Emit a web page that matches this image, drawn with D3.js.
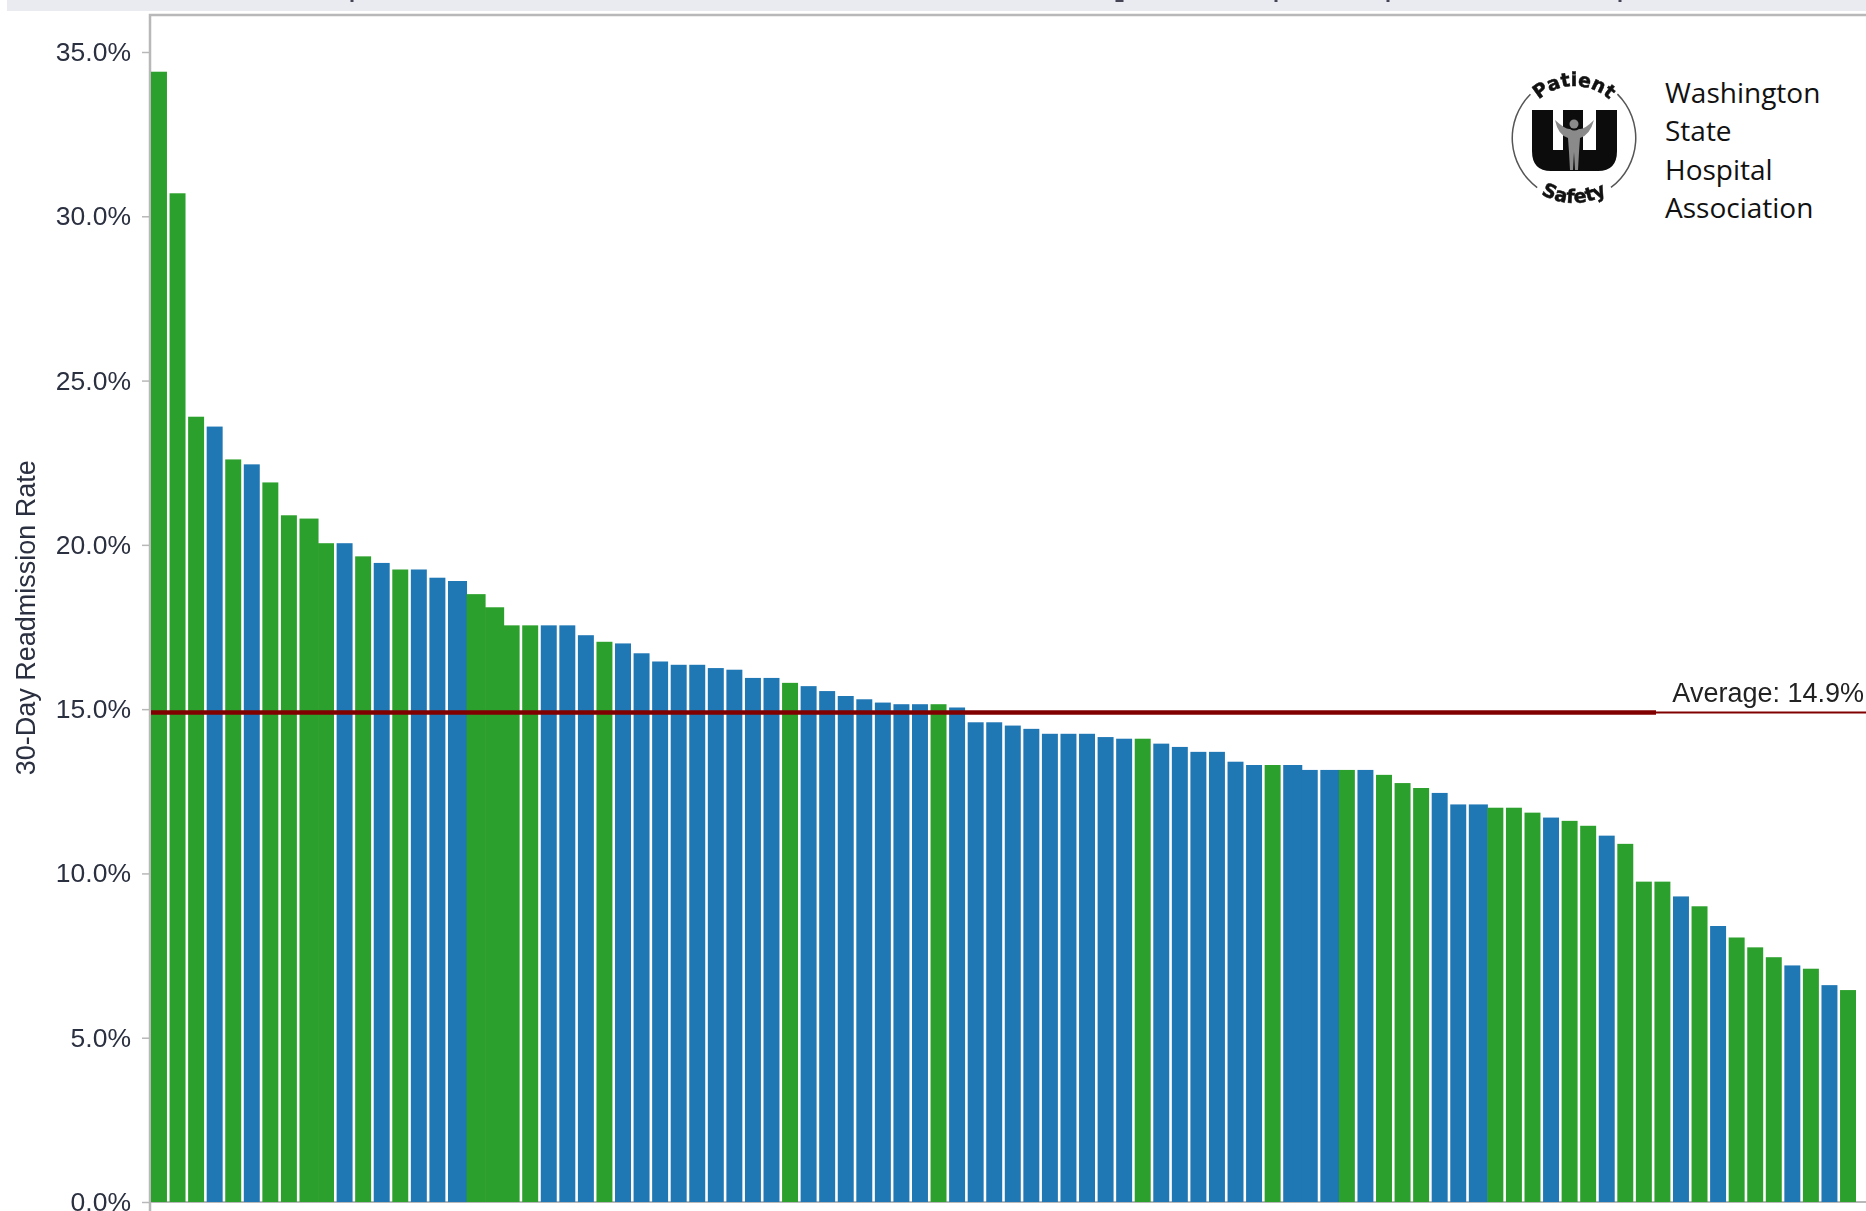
<!DOCTYPE html>
<html>
<head>
<meta charset="utf-8">
<script src="https://d3js.org/d3.v7.min.js"></script>
<style>
  html, body { margin: 0; padding: 0; background: #fff; overflow: hidden; }
  text { font-family: "Liberation Sans", Arial, sans-serif; }
</style>
</head>
<body>
<div id="chart"></div>
<script>
// values, left to right
const rates = [
  34.4, 30.7, 23.9, 23.6, 22.6, 22.45, 21.9, 20.9, 20.8, 20.05,
  20.05, 19.65, 19.45, 19.25, 19.25, 19.0, 18.9, 18.5, 18.1, 17.55,
  17.55, 17.55, 17.55, 17.25, 17.05, 17.0, 16.7, 16.45, 16.35, 16.35,
  16.25, 16.2, 15.95, 15.95, 15.8, 15.7, 15.55, 15.4, 15.3, 15.2,
  15.15, 15.15, 15.15, 15.05, 14.6, 14.6, 14.5, 14.4, 14.25, 14.25,
  14.25, 14.15, 14.1, 14.1, 13.95, 13.85, 13.7, 13.7, 13.4, 13.3,
  13.3, 13.3, 13.15, 13.15, 13.15, 13.15, 13.0, 12.75, 12.6, 12.45,
  12.1, 12.1, 12.0, 12.0, 11.85, 11.7, 11.6, 11.45, 11.15, 10.9,
  9.75, 9.75, 9.3, 9.0, 8.4, 8.05, 7.75, 7.45, 7.2, 7.1,
  6.6, 6.45
];
// G = green, B = blue
const groups = ("GGGBGBGGGG" + "BGBGBBBGGG" + "GBBBGBBBBB" + "BBBBGBBBBB" +
  "BBGBBBBBBB" + "BBBGBBBBBB" + "GBBBGBGGGB" + "BBGGGBGGBG" + "GGBGBGGGBG" + "BG").split("");
const yTicks = [0, 5, 10, 15, 20, 25, 30, 35];
const average = 14.9;
const yTitle = "30-Day Readmission Rate";
const averageLabel = "Average: 14.9%";
const orgLines = ["Washington", "State", "Hospital", "Association"];
const groupColor = { G: "#2ca02c", B: "#1f77b4" };
// bar positions whose gap to the next bar is closed in the picture
const closedGaps = [8, 16, 17, 18, 61, 63, 71];

const W = 1866, H = 1211;
const margin = { top: 14, right: 10, bottom: 10, left: 151 };

const svg = d3.select("#chart").append("svg")
  .attr("width", W).attr("height", H).style("display", "block");

const x = d3.scaleBand().domain(d3.range(rates.length))
  .range([margin.left, W - margin.right]).paddingInner(0.14).paddingOuter(0);
const y = d3.scaleLinear().domain([0, 35]).range([1202, 52]);

// the source is a soft screenshot, so the chart part gets a light blur
const plot = svg.append("g").style("filter", "blur(0.6px)");

// grey band left over from the cropped header, with the title's descenders poking in
plot.append("rect").attr("x", 7).attr("y", 0).attr("width", W - 7).attr("height", 11).attr("fill", "#e9ebf0");
plot.selectAll(".descender")
  .data([352, 1117, 1276, 1388, 1620])
  .join("rect")
  .attr("class", "descender")
  .attr("x", d => d - 1.5).attr("y", 0)
  .attr("width", (d, i) => i === 1 ? 8 : 3).attr("height", 2)
  .attr("fill", "#445");

// frame and baseline
plot.append("path")
  .attr("d", `M${W},15H150V${H}`)
  .attr("fill", "none").attr("stroke", "#b8b8b8").attr("stroke-width", 2.5);
plot.append("line")
  .attr("x1", 150).attr("x2", W).attr("y1", y(0)).attr("y2", y(0))
  .attr("stroke", "#b8b8b8").attr("stroke-width", 2);

// bars
plot.selectAll(".bar")
  .data(rates)
  .join("rect")
  .attr("class", "bar")
  .attr("x", (d, i) => x(i))
  .attr("y", d => y(d))
  .attr("width", (d, i) => closedGaps.includes(i) ? x.step() + 0.5 : x.bandwidth())
  .attr("height", d => y(0) - y(d))
  .attr("fill", (d, i) => groupColor[groups[i]]);

// y axis
const axis = plot.append("g")
  .attr("transform", "translate(150,0)")
  .call(d3.axisLeft(y).tickValues(yTicks).tickSize(8).tickPadding(11).tickFormat(d => d.toFixed(1) + "%"));
axis.select(".domain").remove();
axis.selectAll("line").attr("stroke", "#b8b8b8").attr("stroke-width", 1.5);
axis.selectAll("text").attr("fill", "#2b3040").style("font-size", "26.5px")
  .style("font-family", '"Liberation Sans", Arial, sans-serif');

plot.append("text")
  .attr("transform", `translate(35,${y(17.78)}) rotate(-90)`)
  .attr("text-anchor", "middle")
  .attr("fill", "#2b3040")
  .style("font-size", "27px")
  .text(yTitle);

// average line, thick across the plot and thin under its label
const lineEnd = 1656;
plot.append("line")
  .attr("x1", 151).attr("x2", lineEnd).attr("y1", y(average)).attr("y2", y(average))
  .attr("stroke", "#800000").attr("stroke-width", 4.5);
plot.append("line")
  .attr("x1", lineEnd).attr("x2", W).attr("y1", y(average)).attr("y2", y(average))
  .attr("stroke", "#800000").attr("stroke-width", 2);
plot.append("text")
  .attr("x", 1864).attr("y", 702)
  .attr("text-anchor", "end")
  .attr("fill", "#222")
  .style("font-size", "27px")
  .text(averageLabel);

// organisation text
svg.append("g").selectAll("text")
  .data(orgLines)
  .join("text")
  .attr("x", 1665)
  .attr("y", (d, i) => 103 + i * 38.4)
  .attr("fill", "#111")
  .style("font-family", '"Open Sans", sans-serif')
  .style("font-size", "28px")
  .text(d => d);

// logo
const logo = svg.append("g")
  .attr("transform", "translate(1574,138)")
  .style("filter", "blur(0.4px)");

const ring = d3.arc().innerRadius(61).outerRadius(62.5);
logo.selectAll(".ring")
  .data([[0.78, 2.5], [3.78, 5.5]])
  .join("path")
  .attr("class", "ring")
  .attr("d", d => ring({ startAngle: d[0], endAngle: d[1] }))
  .attr("fill", "#555");

// block letter with two slots
logo.append("path")
  .attr("d", "M-42,-28H-21V12H-11V-28H9V12H22V-28H43V13Q43,33 24,33H-23Q-42,33 -42,13Z")
  .attr("fill", "#0c0c0c");

// figure standing in the letter
logo.append("path")
  .attr("d", "M-19,-18Q-8,-8 -4,-9Q0,-6 5,-9Q10,-8 20,-18Q16,-3 6,0L5,14L4,32H1L0,14L-1,32H-4L-5,14L-6,0Q-16,-3 -19,-18Z")
  .attr("fill", "#8a8a8a");
logo.append("circle").attr("cx", 0).attr("cy", -14).attr("r", 4.5).attr("fill", "#8a8a8a");

const defs = svg.append("defs");
defs.append("path").attr("id", "logoTop").attr("d", "M-52,0A52,52 0 0 1 52,0");
defs.append("path").attr("id", "logoBottom").attr("d", "M-65,0A65,65 0 0 0 65,0");

logo.append("text")
  .attr("text-anchor", "middle")
  .style("font-family", '"DejaVu Sans", sans-serif')
  .style("font-weight", "bold")
  .style("font-size", "19px")
  .attr("fill", "#111").attr("stroke", "#111").attr("stroke-width", 0.5)
  .append("textPath")
  .attr("href", "#logoTop")
  .attr("startOffset", "50%")
  .text("Patient");

logo.append("text")
  .attr("text-anchor", "middle")
  .style("font-family", '"DejaVu Sans", sans-serif')
  .style("font-weight", "bold")
  .style("font-size", "19px")
  .attr("fill", "#111").attr("stroke", "#111").attr("stroke-width", 0.5)
  .append("textPath")
  .attr("href", "#logoBottom")
  .attr("startOffset", "50%")
  .text("Safety");
</script>
</body>
</html>
